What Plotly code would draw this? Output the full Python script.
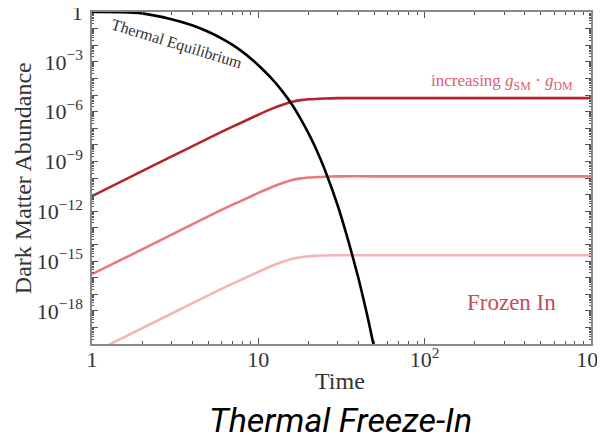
import plotly.graph_objects as go

# ---- data ----
time_freeze = [1, 2, 4, 6, 8, 10, 12, 14, 16, 18, 20, 25, 30, 50, 100, 300, 1000]
y_strong = [8.1e-12, 2.6e-10, 8.1e-9, 6.0e-8, 2.3e-7, 6.5e-7, 1.45e-6, 2.6e-6, 3.9e-6, 4.9e-6,
            5.5e-6, 6.2e-6, 6.5e-6, 6.5e-6, 6.5e-6, 6.5e-6, 6.5e-6]
y_medium = [1.6e-16, 5.0e-15, 1.6e-13, 1.2e-12, 4.5e-12, 1.26e-11, 2.8e-11, 5.0e-11, 7.6e-11, 9.5e-11,
            1.07e-10, 1.2e-10, 1.26e-10, 1.26e-10, 1.26e-10, 1.26e-10, 1.26e-10]
y_weak = [2.8e-21, 8.9e-20, 2.8e-18, 2.1e-17, 7.9e-17, 2.2e-16, 5.0e-16, 8.9e-16, 1.35e-15, 1.7e-15,
          1.9e-15, 2.14e-15, 2.2e-15, 2.2e-15, 2.2e-15, 2.2e-15, 2.2e-15]

time_eq = [1, 1.5, 2, 3, 4, 5, 6, 7, 8, 9, 10, 12, 14, 16, 18, 20, 22, 25, 30, 35, 40, 45, 50]
y_eq = [1.0, 0.98, 0.83, 0.37, 0.16, 0.065, 0.026, 0.0105, 4.1e-3, 1.6e-3, 6.2e-4, 1.0e-4, 1.6e-5,
        2.5e-6, 3.5e-7, 5.0e-8, 7.1e-9, 3.5e-10, 2.2e-12, 1.26e-14, 8.9e-17, 6.3e-19, 4.5e-21]

x_tickvals = [1, 10, 100, 1000]
x_ticktext = ["1", "10", "10<sup>2</sup>", "10<sup>3</sup>"]
y_exponents = list(range(0, -21, -1))
y_labelled = [0, -3, -6, -9, -12, -15, -18]

serif = "Liberation Serif, DejaVu Serif, serif"

fig = go.Figure()
series = [
    (y_weak, "#f5b5b7"),
    (y_medium, "#e87a7e"),
    (y_strong, "#b8222c"),
]
for ys, col in series:
    fig.add_trace(go.Scatter(x=time_freeze, y=ys, mode="lines",
                             line=dict(color=col, width=2.6, shape="spline", smoothing=0.6),
                             showlegend=False, hoverinfo="skip", cliponaxis=True))
fig.add_trace(go.Scatter(x=time_eq, y=y_eq, mode="lines",
                         line=dict(color="#000000", width=2.6, shape="spline", smoothing=0.6),
                         showlegend=False, hoverinfo="skip", cliponaxis=True))

y_tickvals = [10.0 ** e for e in y_exponents]
y_ticktext = []
for e in y_exponents:
    if e == 0:
        y_ticktext.append("1")
    elif e in y_labelled:
        y_ticktext.append("10<sup>\u2212%d</sup>" % (-e))
    else:
        y_ticktext.append("")

axis_common = dict(
    showline=True, linecolor="#8a8a8a", linewidth=1.5, mirror="allticks",
    ticks="inside", tickcolor="#555555", tickwidth=1, showgrid=False, zeroline=False,
    tickfont=dict(family=serif, size=22, color="#333333"), automargin=False,
    ticklabeloverflow="allow",
)

fig.update_xaxes(type="log", range=[0, 3], tickmode="array", tickvals=x_tickvals,
                 ticktext=x_ticktext, ticklen=6, ticklabelstandoff=-5,
                 minor=dict(ticks="inside", ticklen=3, dtick="D1", tickcolor="#555555", showgrid=False),
                 **axis_common)
fig.update_yaxes(type="log", range=[-20, 0], tickmode="array", tickvals=y_tickvals,
                 ticktext=y_ticktext, ticklen=6, ticklabelstandoff=3,
                 minor=dict(ticks="inside", ticklen=2.5, dtick="D1", tickcolor="#555555", showgrid=False),
                 **axis_common)

ann = [
    dict(text="Time", x=0.497, y=-0.11, xref="paper", yref="paper", xanchor="center", yanchor="middle",
         font=dict(family=serif, size=24, color="#333333"), showarrow=False),
    dict(text="Dark Matter Abundance", x=-0.138, y=0.5, xref="paper", yref="paper",
         xanchor="center", yanchor="middle", textangle=-90,
         font=dict(family=serif, size=24, color="#333333"), showarrow=False),
    dict(text="Thermal Equilibrium", x=0.17, y=0.905, xref="paper", yref="paper",
         xanchor="center", yanchor="middle", textangle=17,
         font=dict(family=serif, size=16, color="#333333"), showarrow=False),
    dict(text="increasing <i>g</i><sub>SM</sub> \u00b7 <i>g</i><sub>DM</sub>", x=0.968, y=0.79,
         xref="paper", yref="paper", xanchor="right", yanchor="middle",
         font=dict(family=serif, size=17, color="#d5646f"), showarrow=False),
    dict(text="Frozen In", x=0.84, y=0.125, xref="paper", yref="paper", xanchor="center", yanchor="middle",
         font=dict(family=serif, size=23, color="#c94a5a"), showarrow=False),
    dict(text="<i>Thermal Freeze-In</i>", x=0.497, y=-0.228, xref="paper", yref="paper",
         xanchor="center", yanchor="middle",
         font=dict(family="Liberation Sans Narrow, Roboto, Open Sans, sans-serif", size=34, color="#000000"),
         showarrow=False),
]

# The page adds an 8px body margin, so the figure is 8px smaller than the window
fig.update_layout(
    width=597, height=433,
    margin=dict(l=84, r=14, t=4, b=96.5, autoexpand=False),
    paper_bgcolor="white", plot_bgcolor="white",
    annotations=ann,
)

fig.write_html("out.html")
